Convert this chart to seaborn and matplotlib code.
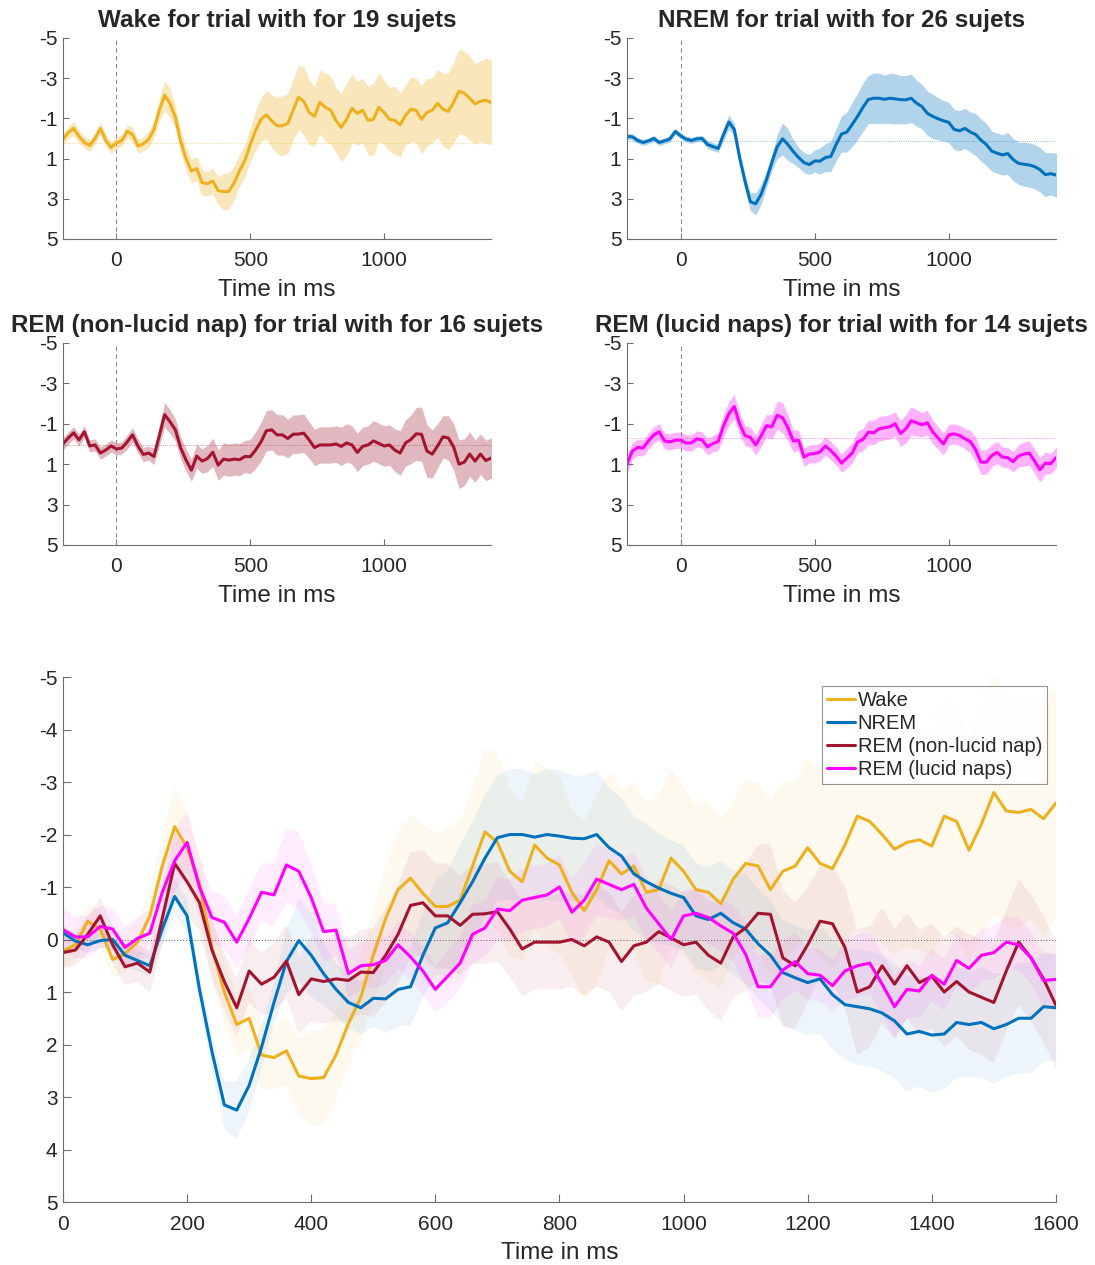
import numpy as np
import pandas as pd
import matplotlib
matplotlib.use("Agg")
import matplotlib.pyplot as plt
import seaborn as sns

# Time axis (ms), one sample every 20 ms
time_ms = list(range(-200, 1601, 20))

conditions = ["Wake", "NREM", "REM (non-lucid nap)", "REM (lucid naps)"]
n_subjects = [19, 26, 16, 14]
colors = ["#EDB120", "#0072BD", "#A2142F", "#FF00FF"]
# level of the faint dotted reference line in each small panel
baseline_lines = [0.24, 0.12, 0.07, -0.29]

# grand-average ERPs (µV)
wake_mean = [
    0.05, -0.3, -0.5, -0.1, 0.2, 0.35, 0.0, -0.5, 0.1, 0.45,
    0.22, 0.1, -0.35, -0.2, 0.38, 0.27, 0.05, -0.45, -1.4, -2.15,
    -1.75, -1.05, 0.15, 1.0, 1.62, 1.5, 2.2, 2.25, 2.12, 2.6,
    2.65, 2.63, 2.2, 1.6, 1.1, 0.3, -0.4, -0.95, -1.17, -0.88,
    -0.63, -0.63, -0.75, -1.4, -2.05, -1.85, -1.3, -1.1, -1.8, -1.55,
    -1.42, -0.9, -0.55, -0.95, -1.5, -1.25, -1.4, -0.9, -0.95, -1.55,
    -1.3, -0.95, -0.9, -0.68, -1.15, -1.45, -1.4, -0.95, -1.3, -1.4,
    -1.75, -1.45, -1.35, -1.8, -2.35, -2.25, -2.0, -1.72, -1.85, -1.9,
    -1.78, -2.35, -2.25, -1.7, -2.2, -2.8, -2.45, -2.42, -2.48, -2.3,
    -2.6,
]
nrem_mean = [
    -0.1, -0.08, 0.1, 0.2, 0.12, 0.0, 0.2, 0.12, 0.02, -0.35,
    -0.13, 0.03, 0.1, 0.02, 0.0, 0.3, 0.4, 0.5, -0.2, -0.82,
    -0.45, 0.95, 2.13, 3.15, 3.25, 2.78, 2.05, 1.2, 0.42, 0.02,
    0.3, 0.65, 0.95, 1.2, 1.3, 1.12, 1.13, 0.95, 0.9, 0.3,
    -0.22, -0.32, -0.7, -1.1, -1.55, -1.94, -2.0, -2.0, -1.95, -2.0,
    -1.97, -1.93, -1.92, -2.0, -1.75, -1.59, -1.25, -1.1, -0.98, -0.88,
    -0.8, -0.45, -0.38, -0.5, -0.32, -0.2, 0.08, 0.3, 0.63, 0.73,
    0.82, 0.75, 1.05, 1.24, 1.28, 1.32, 1.4, 1.55, 1.8, 1.75,
    1.82, 1.8, 1.58, 1.62, 1.58, 1.7, 1.62, 1.5, 1.5, 1.28,
    1.3,
]
rem_nl_mean = [
    0.0, -0.3, -0.55, -0.2, -0.6, 0.1, 0.05, 0.45, 0.3, 0.1,
    0.25, 0.2, -0.1, -0.45, 0.1, 0.52, 0.45, 0.62, -0.4, -1.45,
    -1.1, -0.7, 0.2, 0.8, 1.3, 0.6, 0.85, 0.72, 0.41, 1.05,
    0.75, 0.8, 0.75, 0.78, 0.62, 0.63, 0.3, -0.1, -0.65, -0.7,
    -0.45, -0.45, -0.27, -0.48, -0.49, -0.53, -0.2, 0.18, 0.05, 0.05,
    0.05, 0.0, 0.12, -0.05, 0.05, 0.42, 0.12, 0.05, -0.15, -0.03,
    0.1, 0.05, 0.3, 0.45, -0.05, -0.22, -0.5, -0.48, 0.35, 0.5,
    0.1, -0.35, -0.3, 0.15, 1.0, 0.9, 0.5, 0.85, 0.5, 0.82,
    0.7, 1.0, 0.8, 1.0, 1.1, 1.2, 0.6, 0.05, 0.35, 0.75,
    1.25,
]
rem_lucid_mean = [
    1.0, 0.35, 0.17, 0.2, -0.15, -0.45, -0.6, -0.15, -0.1, -0.18,
    -0.19, -0.05, -0.05, -0.25, -0.2, 0.15, -0.02, -0.12, -0.9, -1.5,
    -1.85, -1.0, -0.42, -0.33, 0.05, -0.4, -0.9, -0.85, -1.42, -1.3,
    -0.8, -0.15, -0.18, 0.65, 0.5, 0.48, 0.4, 0.1, 0.33, 0.6,
    0.95, 0.7, 0.45, -0.1, -0.22, -0.58, -0.55, -0.75, -0.8, -0.85,
    -1.0, -0.52, -0.75, -1.15, -1.05, -0.95, -1.05, -0.6, -0.3, 0.0,
    -0.45, -0.5, -0.42, -0.26, -0.12, 0.28, 0.9, 0.9, 0.58, 0.42,
    0.65, 0.68, 0.88, 0.6, 0.5, 0.45, 0.85, 1.28, 0.95, 0.98,
    0.68, 0.85, 0.4, 0.55, 0.3, 0.25, 0.05, 0.1, 0.35, 0.78,
    0.76,
]

# half-width of the shaded error band
wake_err = [
    0.3, 0.3, 0.35, 0.3, 0.3, 0.3, 0.3, 0.3, 0.3, 0.3,
    0.3, 0.3, 0.35, 0.35, 0.35, 0.35, 0.4, 0.45,
    0.55, 0.75, 0.7, 0.6, 0.6,
    0.6, 0.6, 0.6, 0.65, 0.6, 0.65, 0.7, 0.9, 0.9, 0.85,
    0.8, 0.8, 0.85, 1.0, 1.1, 1.2,
    1.3, 1.4, 1.5, 1.5, 1.5, 1.6, 1.7,
    1.6, 1.5, 1.6, 1.7, 1.7, 1.6, 1.7, 1.8, 1.7, 1.6,
    1.6, 1.7, 1.8, 1.7, 1.6, 1.6, 1.7, 1.6, 1.5, 1.6,
    1.6, 1.7, 1.7, 1.6, 1.7, 1.8, 1.9, 2.0, 2.1, 2.1,
    2.1, 2.0, 2.0, 2.1, 2.1, 2.2, 2.2, 2.1, 2.2, 2.3, 2.2, 2.2, 2.1, 2.2, 2.2,
]
nrem_err = [
    0.15, 0.15, 0.15, 0.15, 0.15, 0.15, 0.15, 0.15, 0.15, 0.15,
    0.15, 0.15, 0.15, 0.15, 0.15, 0.2, 0.2, 0.2,
    0.3, 0.35, 0.3, 0.3, 0.35,
    0.45, 0.55, 0.5, 0.4, 0.4, 0.6, 0.8, 0.8, 0.6, 0.5,
    0.5, 0.5, 0.55, 0.65, 0.7, 0.75,
    0.8, 0.9, 1.0, 1.1, 1.15, 1.2, 1.2,
    1.25, 1.25, 1.2, 1.25, 1.25, 1.2, 1.2, 1.2, 1.15, 1.1,
    1.1, 1.1, 1.05, 1.0, 1.0, 1.0, 1.0, 1.0, 1.0, 1.05,
    1.05, 1.05, 1.0, 1.0, 1.0, 1.05, 1.05, 1.05, 1.1, 1.1,
    1.1, 1.1, 1.1, 1.05, 1.1, 1.05, 1.05, 1.0, 1.05, 1.05, 1.0, 1.05, 1.05, 1.05, 1.0,
]
rem_nl_err = [
    0.3, 0.3, 0.3, 0.3, 0.3, 0.3, 0.3, 0.3, 0.3, 0.3,
    0.3, 0.3, 0.35, 0.35, 0.35, 0.35, 0.35, 0.4,
    0.5, 0.6, 0.6, 0.55, 0.55,
    0.55, 0.55, 0.6, 0.6, 0.65, 0.7, 0.75, 0.8, 0.8, 0.8,
    0.8, 0.8, 0.85, 0.9, 0.95, 1.0,
    1.0, 1.0, 1.0, 0.95, 0.95, 0.95, 0.95,
    0.9, 0.9, 0.9, 0.9, 0.9, 0.9, 0.95, 0.95, 0.95, 0.95,
    0.95, 0.95, 1.0, 1.0, 1.0, 1.0, 1.05, 1.1, 1.15, 1.2,
    1.3, 1.35, 1.3, 1.2, 1.1, 1.05, 1.1, 1.15, 1.2, 1.15,
    1.1, 1.05, 1.0, 1.0, 1.0, 1.05, 1.05, 1.1, 1.1, 1.15, 1.15, 1.2, 1.2, 1.2, 1.2,
]
rem_lucid_err = [
    0.45, 0.4, 0.4, 0.4, 0.4, 0.4, 0.4, 0.4, 0.4, 0.4,
    0.4, 0.4, 0.4, 0.4, 0.4, 0.4, 0.4, 0.45,
    0.55, 0.6, 0.6, 0.55, 0.5,
    0.5, 0.5, 0.55, 0.55, 0.6, 0.7, 0.75, 0.65, 0.55, 0.5,
    0.45, 0.45, 0.45, 0.45, 0.45, 0.45,
    0.45, 0.45, 0.5, 0.5, 0.55, 0.55, 0.6,
    0.6, 0.6, 0.6, 0.6, 0.6, 0.65, 0.7, 0.7, 0.65, 0.6,
    0.6, 0.6, 0.55, 0.55, 0.5, 0.5, 0.5, 0.5, 0.55, 0.6,
    0.6, 0.6, 0.55, 0.55, 0.5, 0.5, 0.5, 0.55, 0.6, 0.6,
    0.6, 0.6, 0.55, 0.5, 0.5, 0.5, 0.5, 0.5, 0.5, 0.5, 0.5, 0.5, 0.5, 0.5, 0.5,
]

means = [wake_mean, nrem_mean, rem_nl_mean, rem_lucid_mean]
errs = [wake_err, nrem_err, rem_nl_err, rem_lucid_err]

# long table for seaborn
frames = []
for name, m, e in zip(conditions, means, errs):
    frames.append(pd.DataFrame({"time": time_ms, "amp": m, "err": e, "cond": name}))
df = pd.concat(frames, ignore_index=True)
df["lo"] = df["amp"] - df["err"]
df["hi"] = df["amp"] + df["err"]

sns.set_style("ticks")
plt.rcParams["font.family"] = ["Liberation Sans", "DejaVu Sans"]
plt.rcParams["axes.unicode_minus"] = False
AX_COLOR = "#262626"
SPINE_COLOR = "#6e6e6e"


def style_axes(ax, tick_len):
    sns.despine(ax=ax)
    for s in ["left", "bottom"]:
        ax.spines[s].set_color(SPINE_COLOR)
        ax.spines[s].set_linewidth(0.8)
    ax.tick_params(direction="in", length=tick_len, width=0.8, color=SPINE_COLOR,
                   labelcolor=AX_COLOR, labelsize=15)
    ax.tick_params(axis="x", pad=9)
    ax.tick_params(axis="y", pad=4)
    ax.set_ylabel("")


fig = plt.figure(figsize=(10.95, 12.65), dpi=100)

# small panels
small_pos = [
    [0.0575, 0.8111, 0.391, 0.1589],
    [0.5726, 0.8111, 0.3918, 0.1589],
    [0.0575, 0.5692, 0.391, 0.1597],
    [0.5726, 0.5692, 0.3918, 0.1597],
]
for i, name in enumerate(conditions):
    ax = fig.add_axes(small_pos[i])
    sub = df[df["cond"] == name]
    ax.fill_between(sub["time"], sub["lo"], sub["hi"], color=colors[i], alpha=0.3,
                    linewidth=0)
    ax.axhline(baseline_lines[i], color=colors[i], lw=0.6, ls=":", alpha=0.6)
    ax.axvline(0, color="#8c8c8c", lw=0.8, ls=(0, (4, 3)))
    sns.lineplot(data=sub, x="time", y="amp", color=colors[i], linewidth=2.2, ax=ax)
    ax.set_xlim(-200, 1400)
    ax.set_ylim(5, -5)
    ax.set_yticks([-5, -3, -1, 1, 3, 5])
    ax.set_xticks([0, 500, 1000])
    style_axes(ax, 4)
    ax.set_xlabel("Time in ms", fontsize=17.5, color=AX_COLOR, labelpad=6)
    ax.set_title(f"{name} for trial with for {n_subjects[i]} sujets",
                 fontsize=17.5, fontweight="bold", pad=8)

# overlay panel
ax = fig.add_axes([0.0575, 0.0498, 0.9068, 0.415])
for i, name in enumerate(conditions):
    sub = df[df["cond"] == name]
    ax.fill_between(sub["time"], sub["lo"], sub["hi"], color=colors[i], alpha=0.07,
                    linewidth=0)
ax.axhline(0, color="#555555", lw=0.7, ls=(0, (1, 2)))
for i, name in enumerate(conditions):
    sub = df[df["cond"] == name]
    sns.lineplot(data=sub, x="time", y="amp", color=colors[i], linewidth=2.2,
                 label=name, ax=ax)
ax.set_xlim(0, 1600)
ax.set_ylim(5, -5)
ax.set_yticks(np.arange(-5, 6, 1))
ax.set_xticks(np.arange(0, 1601, 200))
style_axes(ax, 6)
ax.set_xlabel("Time in ms", fontsize=17.5, color=AX_COLOR, labelpad=6)
leg = ax.legend(loc="upper right", bbox_to_anchor=(0.995, 0.99), fontsize=14.5,
                frameon=True, fancybox=False, handlelength=1.4, handletextpad=0.1,
                borderpad=0.25, labelspacing=0.2, borderaxespad=0.2)
leg.get_frame().set_edgecolor("#7a7a7a")
leg.get_frame().set_linewidth(0.8)

fig.savefig("out.png", dpi=100)
